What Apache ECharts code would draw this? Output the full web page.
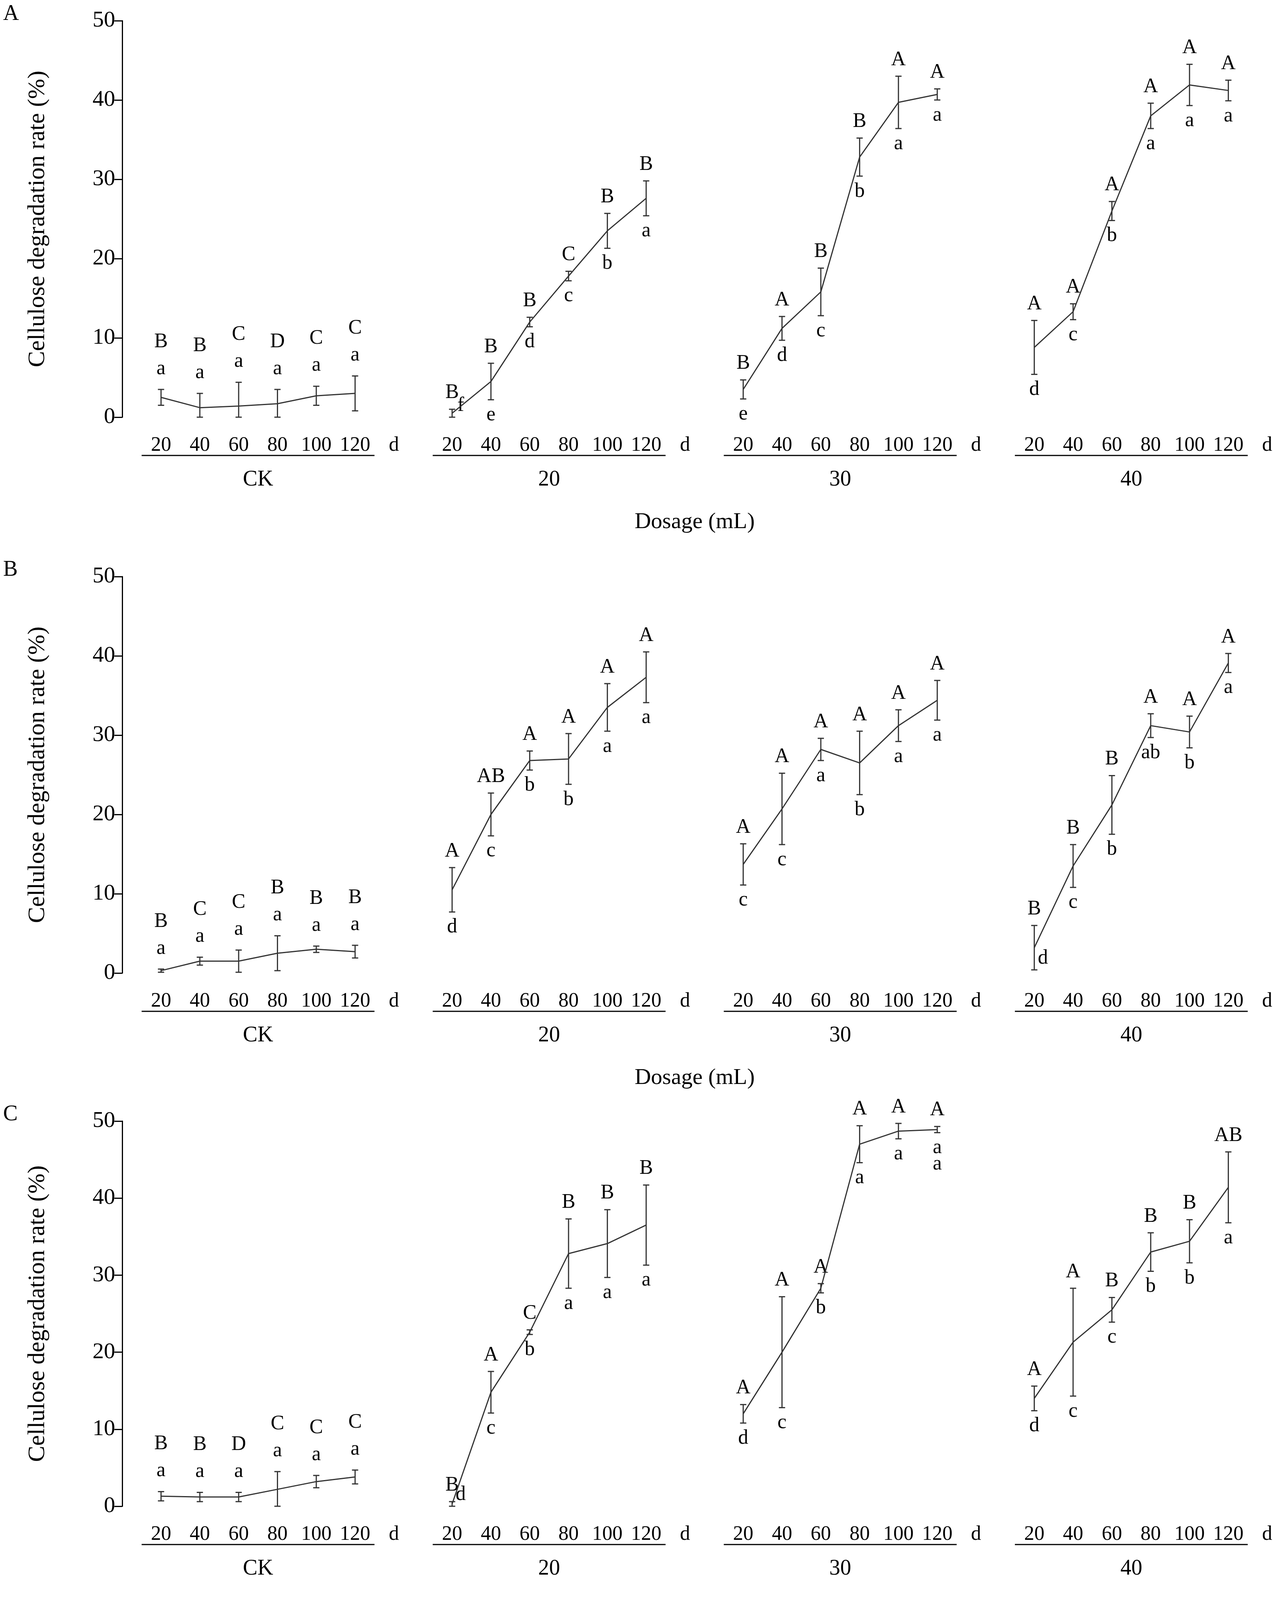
<!DOCTYPE html>
<html><head><meta charset="utf-8">
<script src="https://cdn.jsdelivr.net/npm/echarts@6/dist/echarts.min.js"></script>
<style>html,body{margin:0;background:#fff}#c{width:3260px;height:4155px}</style>
</head><body><div id="c"></div>
<script>
const days = ["20", "40", "60", "80", "100", "120"];
const groups = ["CK", "20", "30", "40"];
const panelNames = ["A", "B", "C"];

// means / errors / letters, 24 per panel (CK, 20, 30, 40 × 6 days)
const meansA = [2.5,1.2,1.4,1.7,2.7,3.0, 0.5,4.5,12,17.8,23.5,27.6, 3.5,11.2,15.8,32.8,39.7,40.7, 8.8,13.3,26,38,41.9,41.2];
const errsA  = [1.0,1.8,3.0,1.8,1.2,2.2, 0.5,2.3,0.6,0.6,2.2,2.2, 1.2,1.5,3.0,2.4,3.3,0.7, 3.4,1.0,1.2,1.6,2.6,1.3];
const upA = ["B","B","C","D","C","C", "B","B","B","C","B","B", "B","A","B","B","A","A", "A","A","A","A","A","A"];
const loA = ["a","a","a","a","a","a", "f","e","d","c","b","a", "e","d","c","b","a","a", "d","c","b","a","a","a"];

const meansB = [0.3,1.5,1.5,2.5,3.0,2.7, 10.5,20,26.8,27,33.5,37.3, 13.7,20.7,28.2,26.5,31.2,34.4, 3.2,13.5,21.2,31.2,30.4,39.1];
const errsB  = [0.2,0.5,1.4,2.2,0.4,0.8, 2.8,2.7,1.2,3.2,3.0,3.2, 2.6,4.5,1.4,4.0,2.0,2.5, 2.8,2.7,3.7,1.5,2.0,1.2];
const upB = ["B","C","C","B","B","B", "A","AB","A","A","A","A", "A","A","A","A","A","A", "B","B","B","A","A","A"];
const loB = ["a","a","a","a","a","a", "d","c","b","b","a","a", "c","c","a","b","a","a", "d","c","b","ab","b","a"];

const meansC = [1.3,1.2,1.2,2.2,3.2,3.8, 0.3,14.8,22.6,32.8,34.1,36.5, 12,20,28.3,47,48.7,48.9, 14,21.3,25.5,33,34.4,41.4];
const errsC  = [0.6,0.6,0.6,2.3,0.8,0.9, 0.3,2.7,0.3,4.5,4.4,5.2, 1.2,7.2,0.6,2.4,1.0,0.4, 1.6,7.0,1.6,2.5,2.8,4.6];
const upC = ["B","B","D","C","C","C", "B","A","C","B","B","B", "A","A","A","A","A","A", "A","A","B","B","B","AB"];
const loC = ["a","a","a","a","a","a", "d","c","b","a","a","a", "d","c","b","a","a","a\na", "d","c","c","b","b","a"];

const panels = [
  { means: meansA, errs: errsA, up: upA, lo: loA },
  { means: meansB, errs: errsB, up: upB, lo: loB },
  { means: meansC, errs: errsC, up: upC, lo: loC },
];

const FONT = "Liberation Serif";
const INK = "#333";
const tops = [53, 1476, 2870];
const H = 1015;
const xOf = (g, i) => g * 7.5 + i;

const grid = [], xAxis = [], yAxis = [], series = [], graphic = [];
panels.forEach((p, k) => {
  grid.push({ left: 313, right: 15, top: tops[k], height: H });
  xAxis.push({
    type: "value", gridIndex: k, min: -1, max: 28.5,
    axisLine: { show: false }, axisTick: { show: false }, axisLabel: { show: false }, splitLine: { show: false },
    name: "Dosage (mL)", nameLocation: "middle", nameGap: 240,
    nameTextStyle: { fontFamily: FONT, fontSize: 58, color: "#000" },
  });
  yAxis.push({
    type: "value", gridIndex: k, min: 0, max: 50, interval: 10,
    axisLine: { show: true, onZero: false, lineStyle: { color: "#000", width: 3 } },
    axisTick: { show: true, length: 20, lineStyle: { color: "#000", width: 3 } },
    axisLabel: { fontFamily: FONT, fontSize: 58, color: "#000", margin: 18 },
    splitLine: { show: false },
    name: "Cellulose degradation rate (%)", nameLocation: "middle", nameGap: 185,
    nameTextStyle: { fontFamily: FONT, fontSize: 62, color: "#000" },
  });
  graphic.push({ type: "text", left: 8, top: tops[k] - 45, style: { text: panelNames[k], font: "56px " + FONT, fill: "#000" } });

  const pts = [];
  groups.forEach((g, gi) => {
    const line = days.map((d, i) => [xOf(gi, i), p.means[gi * 6 + i]]);
    series.push({
      type: "line", xAxisIndex: k, yAxisIndex: k, data: line, symbol: "none",
      lineStyle: { color: INK, width: 3 },
    });
    days.forEach((d, i) => {
      const j = gi * 6 + i;
      pts.push([xOf(gi, i), p.means[j], p.errs[j], p.up[j], p.lo[j], gi === 0 ? 1 : 0]);
    });
  });

  // error bars + significance letters
  series.push({
    type: "custom", xAxisIndex: k, yAxisIndex: k, clip: false, data: pts,
    renderItem: (params, api) => {
      const x = api.value(0), m = api.value(1), e = api.value(2);
      const t = api.coord([x, m + e]), b = api.coord([x, Math.max(0, m - e)]);
      const up = pts[params.dataIndex][3], lo = pts[params.dataIndex][4], stacked = pts[params.dataIndex][5];
      const ls = { stroke: INK, lineWidth: 3 };
      const txt = (s, y) => ({ type: "text", style: { text: s, x: t[0], y, font: "52px " + FONT, fill: "#000", align: "center", verticalAlign: "middle" } });
      const ch = [
        { type: "line", shape: { x1: t[0], y1: t[1], x2: b[0], y2: b[1] }, style: ls },
        { type: "line", shape: { x1: t[0] - 8, y1: t[1], x2: t[0] + 8, y2: t[1] }, style: ls },
        { type: "line", shape: { x1: b[0] - 8, y1: b[1], x2: b[0] + 8, y2: b[1] }, style: ls },
      ];
      if (stacked) {
        ch.push(txt(lo, t[1] - 53), txt(up, t[1] - 122));
      } else {
        ch.push(txt(up, t[1] - 42));
        if (m - e < 1) {
          // near zero: letter sits just right of the bar, above the tick labels
          ch.push({ type: "text", style: { text: lo, x: b[0] + 22, y: b[1] - 30, font: "52px " + FONT, fill: "#000", align: "center", verticalAlign: "middle" } });
        } else {
          ch.push({ type: "text", style: { text: lo, x: b[0], y: b[1] + 18, font: "52px " + FONT, fill: "#000", align: "center", verticalAlign: "top", lineHeight: 42 } });
        }
      }
      return { type: "group", children: ch };
    },
  });

  // day tick labels, group underlines and group names
  const ticks = [];
  groups.forEach((g, gi) => {
    days.forEach((d, i) => ticks.push([xOf(gi, i), d, 0]));
    ticks.push([xOf(gi, 6), "d", 0]);
    ticks.push([xOf(gi, 2.5), g, 1]);
  });
  series.push({
    type: "custom", xAxisIndex: k, yAxisIndex: k, clip: false, data: ticks,
    renderItem: (params, api) => {
      const it = ticks[params.dataIndex];
      const c = api.coord([it[0], 0]);
      if (it[2] === 0) {
        return { type: "text", style: { text: it[1], x: c[0], y: c[1] + 72, font: "52px " + FONT, fill: "#000", align: "center", verticalAlign: "middle" } };
      }
      const l = api.coord([it[0] - 3, 0]), r = api.coord([it[0] + 3, 0]);
      return { type: "group", children: [
        { type: "line", shape: { x1: l[0], y1: c[1] + 98, x2: r[0], y2: c[1] + 98 }, style: { stroke: "#000", lineWidth: 3 } },
        { type: "text", style: { text: it[1], x: c[0], y: c[1] + 160, font: "56px " + FONT, fill: "#000", align: "center", verticalAlign: "middle" } },
      ] };
    },
  });
});

const chart = echarts.init(document.getElementById("c"));
chart.setOption({ animation: false, backgroundColor: "#fff", grid, xAxis, yAxis, series, graphic });
</script></body></html>
